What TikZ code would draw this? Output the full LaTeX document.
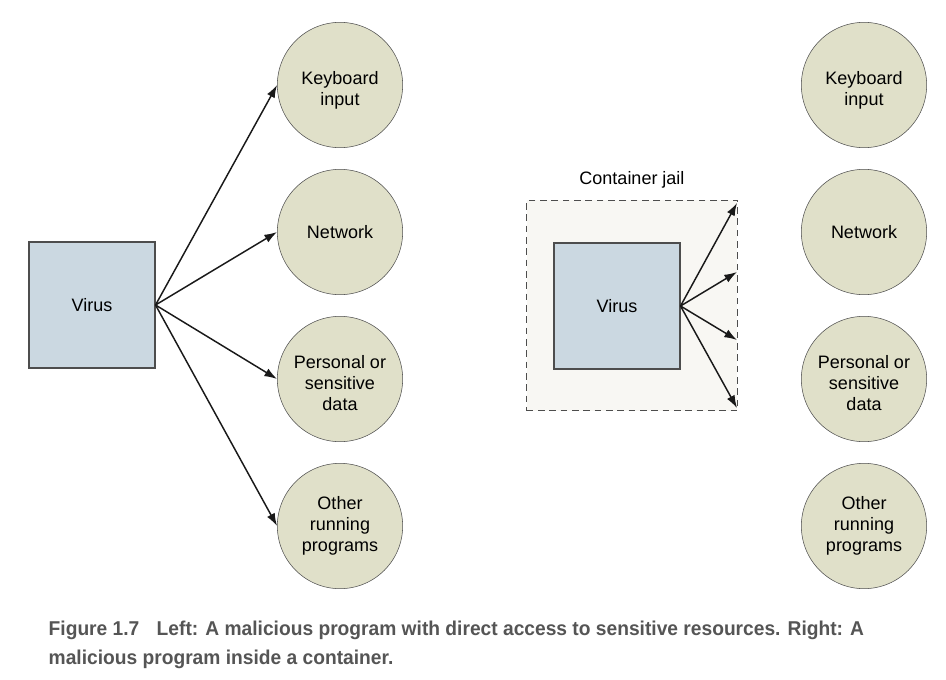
\documentclass[tikz,border=0pt]{standalone}
\usepackage{fontspec}
\setmainfont{Liberation Sans}
\newfontfamily\captionfont[FakeStretch=0.96]{Liberation Sans}
\usetikzlibrary{arrows.meta, positioning}
\definecolor{virusfill}{RGB}{203,216,225}
\definecolor{resfill}{RGB}{224,224,201}
\definecolor{jailfill}{RGB}{248,247,243}
\definecolor{edgegray}{RGB}{77,77,77}
\definecolor{capgray}{RGB}{85,85,85}

\begin{document}
\begin{tikzpicture}[
    x=0.75pt, y=-0.75pt,
    every node/.style={font=\fontsize{13.5}{15.8}\selectfont},
    virus/.style={rectangle, draw=edgegray, fill=virusfill, thick, minimum size=94.5pt, inner sep=0pt},
    res/.style={circle, draw=edgegray, fill=resfill, minimum size=94pt, inner sep=0pt, align=center},
    lowtext/.style={text height=#1},
    jail/.style={rectangle, draw=edgegray, fill=jailfill, thick, dashed, dash pattern=on 5pt off 3.5pt, minimum size=158pt, inner sep=0pt},
    arr/.style={-{Latex[length=9.5pt, width=6.5pt]}, line width=1.1pt, draw=black!90}
]
    \useasboundingbox (0,0) rectangle (946,679);

    % Left: direct access
    \node[virus] (virus) at (92,305) {Virus};
    \node[res, lowtext=33pt] (kbd) at (340,85) {Keyboard\\input};
    \node[res] (net) at (340,232) {Network};
    \node[res, lowtext=47pt] (data) at (340,379) {Personal or\\sensitive\\data};
    \node[res] (progs) at (340,526) {Other\\running\\programs};

    % Right: inside a container
    \node[jail] (jail) at (632,305.5) {};
    \node[above=5pt of jail] (jaillabel) {Container jail};
    \node[virus] (jvirus) at (617,306) {Virus};
    \node[res, lowtext=33pt] (jkbd) at (864,85) {Keyboard\\input};
    \node[res] (jnet) at (864,232) {Network};
    \node[res, lowtext=47pt] (jdata) at (864,379) {Personal or\\sensitive\\data};
    \node[res] (jprogs) at (864,526) {Other\\running\\programs};

    \coordinate (wall1) at (737,203);
    \coordinate (wall2) at (737,272);
    \coordinate (wall3) at (737,340);
    \coordinate (wall4) at (737,408);

    % Connectors
    \foreach \t in {kbd, net, data, progs}
        \draw[arr] (virus.east) -- (\t.west);
    \foreach \w in {1,...,4}
        \draw[arr] (jvirus.east) -- (wall\w);

    % Caption
    \node[anchor=west, align=left, text=capgray, font=\captionfont\bfseries\fontsize{15}{21.8}\selectfont] (caption) at (44,645)
        {Figure 1.7\hspace{13pt}Left: A malicious program with direct access to sensitive resources. Right: A\\malicious program inside a container.};
\end{tikzpicture}
\end{document}
